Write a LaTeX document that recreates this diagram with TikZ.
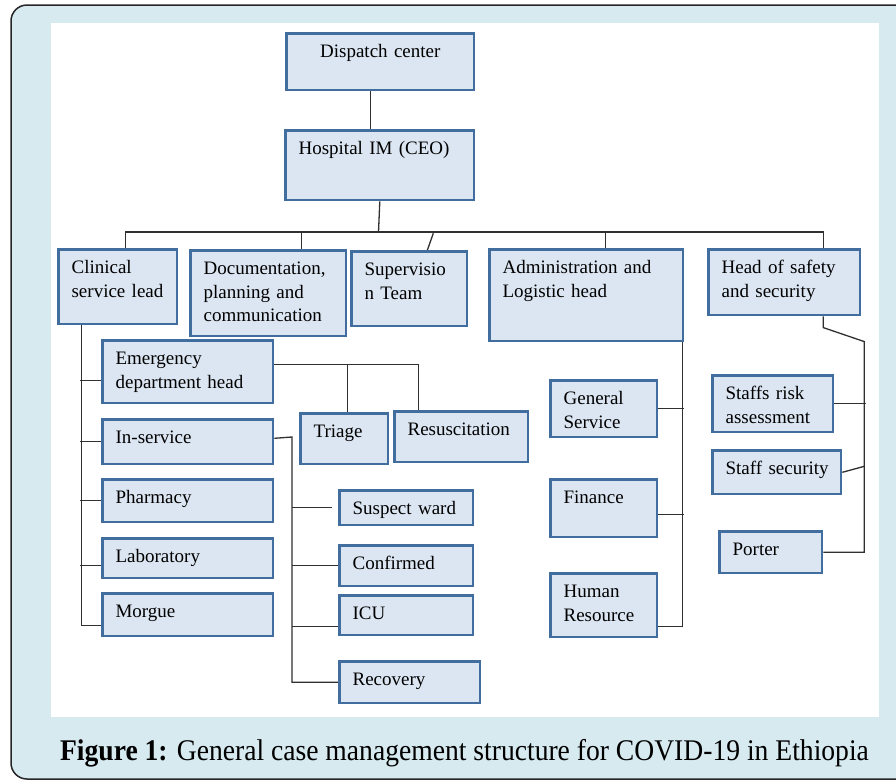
\documentclass[tikz,border=0pt]{standalone}
\usepackage{fontspec}
\setmainfont{Liberation Serif}
\usepackage{graphicx}
\usetikzlibrary{backgrounds}
\definecolor{clrFrame}{HTML}{D6EAF0}
\definecolor{clrBoxFill}{HTML}{DCE6F2}
\definecolor{clrBoxEdge}{HTML}{416D9F}
\definecolor{clrLink}{HTML}{303030}
\hyphenpenalty=10000
\exhyphenpenalty=10000

\begin{document}
\begin{tikzpicture}[
    x=1pt, y=-1pt,
    orgbox/.style 2 args={rectangle, draw=clrBoxEdge, fill=clrBoxFill, line width=2.6pt, anchor=north west, xshift=1.3pt, yshift=-1.3pt, inner xsep=13pt, inner ysep=0pt, align=left, font=\fontsize{19}{23.5}\selectfont, text width=#1pt-28.6pt, text height=24pt, text depth=#2pt-26.6pt},
    link/.style={line width=1.3pt, clrLink},
    caption/.style={font=\fontsize{30}{36}\selectfont, anchor=base},
]
\useasboundingbox (0,0) rectangle (896,782);

% Top of the chain
\node[orgbox={190}{59}, align=center] (disp) at (284,31) {Dispatch center};
\node[orgbox={191}{72}] (hosp) at (283,128) {Hospital IM (CEO)};

% Heads
\node[orgbox={121}{77}] (clin) at (56,247) {Clinical\\service~lead};
\node[orgbox={158}{88}] (doc) at (188,248) {Documentation,\\planning and\\communication};
\node[orgbox={118}{77}] (sup) at (349,249) {Supervisio\\n Team};
\node[orgbox={196}{94}] (adm) at (487,247) {Administration and\\Logistic head};
\node[orgbox={154}{68}] (safe) at (706,247) {Head of safety\\and security};

% Clinical services
\node[orgbox={173}{65}] (emer) at (100,338) {Emergency\\department head};
\node[orgbox={173}{47}] (inse) at (100,417) {In-service};
\node[orgbox={173}{45}] (phar) at (100,477) {Pharmacy};
\node[orgbox={173}{42}] (lab) at (100,536) {Laboratory};
\node[orgbox={173}{45}] (morg) at (100,591) {Morgue};

% Emergency department
\node[orgbox={90}{53}] (tri) at (298,411) {Triage};
\node[orgbox={136}{53}] (resus) at (392,409) {Resuscitation};

% In-service wards
\node[orgbox={136}{37}] (susp) at (337,488) {Suspect~ward};
\node[orgbox={136}{43}] (conf) at (337,543) {Confirmed};
\node[orgbox={136}{42}] (icu) at (337,593) {ICU};
\node[orgbox={143}{44}] (reco) at (337,659) {Recovery};

% Administration
\node[orgbox={109}{59}] (gen) at (548,378) {General\\Service};
\node[orgbox={109}{60}] (fin) at (548,477) {Finance};
\node[orgbox={109}{66}] (hr) at (548,571) {Human\\Resource};

% Safety and security
\node[orgbox={123}{59}] (srisk) at (710,373) {Staffs risk\\assessment};
\node[orgbox={131}{46}] (ssec) at (710,448) {\mbox{Staff security}};
\node[orgbox={105}{44}] (port) at (717,529) {Porter};

% Caption
\node[caption] (cap) at (464.5,760) {\scalebox{0.92}[1]{\textbf{Figure 1:} General case management structure for COVID-19 in Ethiopia}};

\begin{scope}[on background layer]
% frame and panel
\begin{scope}
\clip (0,0) rectangle (896,782);
\draw[fill=clrFrame, draw=black!85, line width=1.5pt, rounded corners=16pt] (11,5) rectangle (930,779);
\end{scope}
\fill[white] (51,23) rectangle (879,717);

% Tree
\coordinate (bus) at (378.5,232);
\draw[link] ([xshift=-10pt]disp.south) -- ([xshift=-9.5pt]hosp.north);
\draw[link] (hosp.south) -- (bus);
\draw[link] ([xshift=7.5pt]clin.north) |- (bus) -| ([xshift=39pt]safe.north);
\draw[link] ([xshift=33pt]doc.north) |- (bus);
\draw[link] ([xshift=19pt]adm.north) |- (bus);
\draw[link] ([xshift=18pt]sup.north) -- ++(6,-17);

% Clinical branch
\draw[link] ([xshift=-36.5pt]clin.south) |- ([yshift=-10.5pt]morg.west);
\draw[link] ([yshift=-8.5pt]emer.west) -- ++(-21.3,0);
\draw[link] (inse.west) -- ++(-21.3,0);
\draw[link] (phar.west) -- ++(-21.3,0);
\draw[link] ([yshift=-7pt]lab.west) -- ++(-21.3,0);

% Emergency branch
\draw[link] ([yshift=7.5pt]emer.east) -| ([xshift=-43pt]resus.north);
\draw[link] ([xshift=3pt]tri.north) |- ([yshift=7.5pt]emer.east);

% In-service branch
\coordinate (ispine) at (292,437);
\draw[link] ([yshift=3.5pt]inse.east) -- (ispine) |- (reco.west);
\draw[link] ([xshift=-6pt]susp.west) -- (susp.west -| ispine);
\draw[link] (conf.west) -- (conf.west -| ispine);
\draw[link] ([yshift=-11pt]icu.west) -- ++(-46.3,0);

% Administration branch
\draw[link] ([xshift=96pt]adm.south) |- ([yshift=-21pt]hr.east);
\draw[link] (gen.east) -- ++(25.3,0);
\draw[link] ([yshift=-6pt]fin.east) -- ++(25.3,0);

% Safety branch
\draw[link] ([xshift=39pt]safe.south) -- ++(0,11.3) -- ++(41,14) |- (port.east);
\draw[link] (srisk.east) -- ++(31.3,0);
\draw[link] (ssec.east) -- ++(22,-6);
\end{scope}

\end{tikzpicture}
\end{document}
